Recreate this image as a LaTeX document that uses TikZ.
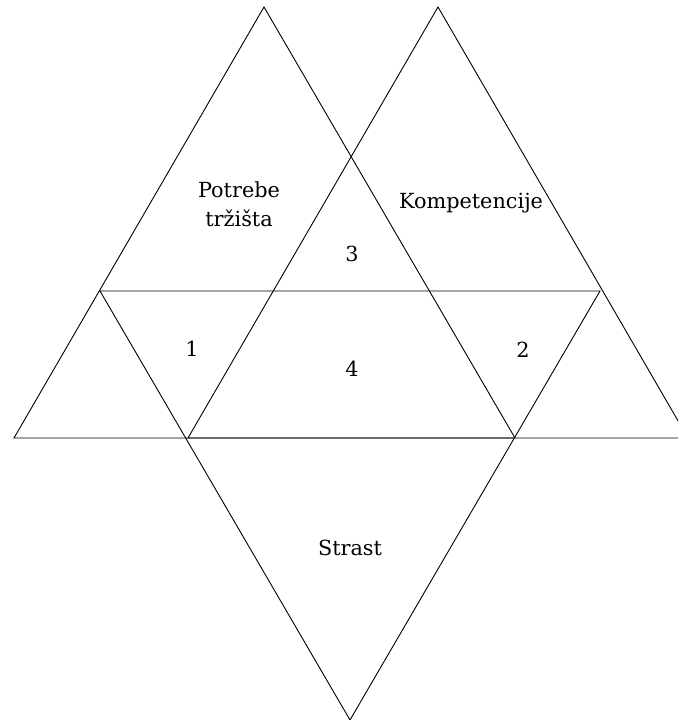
\documentclass[tikz,border=0pt]{standalone}
\usepackage{fontspec}
\setmainfont{DejaVu Serif}
\usepackage{tikz}
\usetikzlibrary{positioning}

\begin{document}
\begin{tikzpicture}[
  x=1pt, y=-1pt,
  font=\fontsize{20.8}{29}\selectfont,
  every node/.style={align=center},
  edge/.style={draw=black, line width=0.9pt, line join=miter},
  label/.style={inner sep=0pt},
]

% ── Frame ──────────────────────────────────────────────────────────
\useasboundingbox (0,0) rectangle (678,720);
\clip (0,0) rectangle (678,720);

% ── Grid coordinates ───────────────────────────────────────────────
\def\rowTop{7}       % apex row of the two upward triangles
\def\rowMid{291}     % top edge of the downward triangle
\def\rowBase{438}    % common base of the upward triangles
\def\rowLow{720}     % lower tip

% ── Corners ────────────────────────────────────────────────────────
\coordinate (marketTop)   at (264,\rowTop);
\coordinate (marketLeft)  at (14,\rowBase);
\coordinate (marketRight) at (515,\rowBase);

\coordinate (skillTop)    at (438,\rowTop);
\coordinate (skillLeft)   at (188,\rowBase);
\coordinate (skillRight)  at (688,\rowBase);

\coordinate (passionLeft)  at (100,\rowMid);
\coordinate (passionRight) at (600,\rowMid);
\coordinate (passionTip)   at (350,\rowLow);

% ── Triangles ──────────────────────────────────────────────────────
\draw[edge] (marketTop) -- (marketLeft) -- (marketRight) -- cycle;
\draw[edge] (skillTop) -- (skillLeft) -- (skillRight) -- cycle;
\draw[edge] (passionLeft) -- (passionRight) -- (passionTip) -- cycle;

% ── Labels ─────────────────────────────────────────────────────────
\node[label] (market)  at (239,204) {Potrebe\\tržišta};
\node[label] (skill)   at (471,203) {Kompetencije};
\node[label] (passion) at (350,548) {Strast};

\node[label] (zoneA) at (192,349) {1};
\node[label] (zoneB) at (523,350) {2};
\node[label] (zoneC) at (352,254) {3};
\node[label] (zoneD) at (352,369) {4};

\end{tikzpicture}
\end{document}
